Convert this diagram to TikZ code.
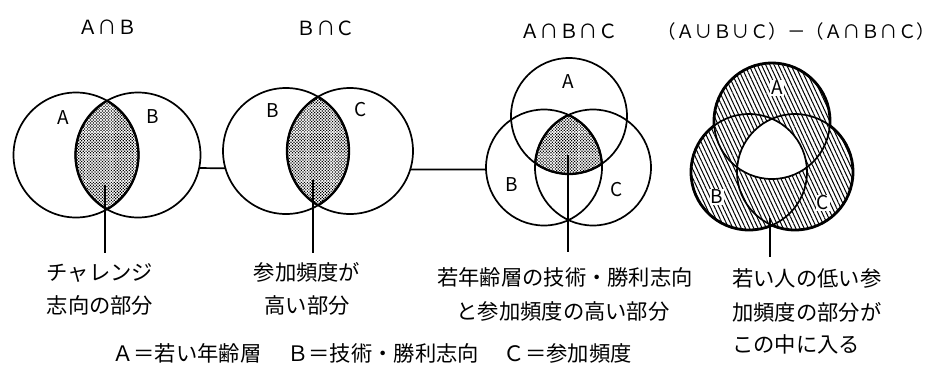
\documentclass[tikz,border=0pt]{standalone}
\usepackage{fontspec}
\newfontfamily\jp{Noto Sans CJK JP}
\usetikzlibrary{patterns,patterns.meta}
\begin{document}
\begin{tikzpicture}[x=1pt,y=-1pt,
  thickarc/.style={line width=2.3pt},
  outerline/.style={line width=2.8pt},
  conn/.style={line width=1.7pt},
  ptr/.style={line width=1.8pt},
  vnode/.style={circle,draw,line width=1.7pt,inner sep=0pt,outer sep=0pt,minimum size=#1},
  lbl/.style={font=\jp\fontsize{19}{19}\selectfont,inner sep=0pt},
  wlbl/.style={font=\jp\fontsize{19}{19}\selectfont,inner sep=1pt,fill=white},
  ttl/.style={font=\jp\fontsize{19.5}{19.5}\selectfont,inner sep=0pt,anchor=base},
  captext/.style={font=\jp\fontsize{21.3}{33}\selectfont,inner sep=0pt,anchor=base},
  captextl/.style={font=\jp\fontsize{21.3}{33}\selectfont,inner sep=0pt,anchor=base west},
  dotfill/.style={pattern={Dots[angle=45,distance=2.1pt,radius=0.85pt]}},
  hatchfill/.style={pattern={Lines[angle=-65,distance=3.8pt,line width=1pt]}},
]
\useasboundingbox (0,0) rectangle (937,365);

% ---------- panel 1 : A cap B
\coordinate (a1) at (76,155);
\coordinate (b1) at (138,155);
\begin{scope}
  \clip (a1) circle[radius=62.5];
  \fill[dotfill] (b1) circle[radius=62.5];
\end{scope}
\node[vnode=125pt] (c1a) at (a1) {};
\node[vnode=125pt] (c1b) at (b1) {};
\begin{scope}\clip (a1) circle[radius=62.5]; \draw[thickarc] (b1) circle[radius=62.5];\end{scope}
\begin{scope}\clip (b1) circle[radius=62.5]; \draw[thickarc] (a1) circle[radius=62.5];\end{scope}
\node[lbl] (la1) at (63,118) {A};
\node[lbl] (lb1) at (153,117) {B};
\node[ttl] (t1) at (107.5,34) {Ａ∩Ｂ};
\coordinate (p1) at (105,185);
\coordinate (q1) at (105,253);
\draw[ptr] (p1) -- (q1);
\node[captext] (k1a) at (100,280) {チャレンジ};
\node[captext] (k1b) at (100,313) {志向の部分};

% ---------- panel 2 : B cap C
\coordinate (b2) at (286,151);
\coordinate (c2) at (350,151);
\begin{scope}
  \clip (b2) circle[radius=63];
  \fill[dotfill] (c2) circle[radius=63];
\end{scope}
\node[vnode=126pt] (c2b) at (b2) {};
\node[vnode=126pt] (c2c) at (c2) {};
\begin{scope}\clip (b2) circle[radius=63]; \draw[thickarc] (c2) circle[radius=63];\end{scope}
\begin{scope}\clip (c2) circle[radius=63]; \draw[thickarc] (b2) circle[radius=63];\end{scope}
\node[lbl] (lb2) at (273,111) {B};
\node[lbl] (lc2) at (361,110) {C};
\node[ttl] (t2) at (326,35) {Ｂ∩Ｃ};
\coordinate (p2) at (313,180);
\coordinate (q2) at (313,253);
\draw[ptr] (p2) -- (q2);
\node[captext] (k2a) at (307,280) {参加頻度が};
\node[captext] (k2b) at (307,313) {高い部分};

% ---------- panel 3 : A cap B cap C
\coordinate (a3) at (569,116);
\coordinate (b3) at (544,167.5);
\coordinate (c3) at (593,167.5);
\begin{scope}
  \clip (a3) circle[radius=58];
  \clip (b3) circle[radius=58];
  \fill[dotfill] (c3) circle[radius=58];
\end{scope}
\node[vnode=116pt] (c3a) at (a3) {};
\node[vnode=116pt] (c3b) at (b3) {};
\node[vnode=116pt] (c3c) at (c3) {};
\begin{scope}\clip (a3) circle[radius=58]; \clip (b3) circle[radius=58]; \draw[thickarc] (c3) circle[radius=58];\end{scope}
\begin{scope}\clip (a3) circle[radius=58]; \clip (c3) circle[radius=58]; \draw[thickarc] (b3) circle[radius=58];\end{scope}
\begin{scope}\clip (b3) circle[radius=58]; \clip (c3) circle[radius=58]; \draw[thickarc] (a3) circle[radius=58];\end{scope}
\node[lbl] (la3) at (568,82) {A};
\node[lbl] (lb3) at (512,185) {B};
\node[lbl] (lc3) at (617,190) {C};
\node[ttl] (t3) at (569,38) {Ａ∩Ｂ∩Ｃ};
\coordinate (p3) at (568,155);
\coordinate (q3) at (568,252);
\draw[ptr] (p3) -- (q3);
\node[captext] (k3a) at (565,285) {若年齢層の技術・勝利志向};
\node[captext] (k3b) at (563,319) {と参加頻度の高い部分};

% ---------- panel 4 : (A cup B cup C) - (A cap B cap C)
\coordinate (a4) at (772,121);
\coordinate (b4) at (749,172);
\coordinate (c4) at (795,172);
\fill[hatchfill] (a4) circle[radius=58] (b4) circle[radius=58] (c4) circle[radius=58];
\begin{scope}
  \clip (a4) circle[radius=58];
  \clip (b4) circle[radius=58];
  \fill[white] (c4) circle[radius=58];
\end{scope}
\node[wlbl] (la4) at (777,88) {A};
\node[wlbl] (lb4) at (717,197) {B};
\node[wlbl] (lc4) at (823,203) {C};
\node[vnode=116pt] (c4a) at (a4) {};
\node[vnode=116pt] (c4b) at (b4) {};
\node[vnode=116pt] (c4c) at (c4) {};
\begin{scope}[even odd rule]
  \clip (660,0) rectangle (937,300) (b4) circle[radius=58];
  \clip (660,0) rectangle (937,300) (c4) circle[radius=58];
  \draw[outerline] (a4) circle[radius=58];
\end{scope}
\begin{scope}[even odd rule]
  \clip (660,0) rectangle (937,300) (a4) circle[radius=58];
  \clip (660,0) rectangle (937,300) (c4) circle[radius=58];
  \draw[outerline] (b4) circle[radius=58];
\end{scope}
\begin{scope}[even odd rule]
  \clip (660,0) rectangle (937,300) (a4) circle[radius=58];
  \clip (660,0) rectangle (937,300) (b4) circle[radius=58];
  \draw[outerline] (c4) circle[radius=58];
\end{scope}
\node[ttl,font=\jp\fontsize{18.5}{18.5}\selectfont] (t4) at (796.5,38) {（Ａ∪Ｂ∪Ｃ）－（Ａ∩Ｂ∩Ｃ）};
\coordinate (p4) at (770,218);
\coordinate (q4) at (770,257);
\draw[ptr] (p4) -- (q4);
\node[captextl] (k4a) at (732,286) {若い人の低い参};
\node[captextl] (k4b) at (732,320) {加頻度の部分が};
\node[captextl] (k4c) at (732,352) {この中に入る};

% ---------- connectors between panels
\draw[conn] (c1b.-12.9) -- (c2b.196.6);
\draw[conn] (c2c.-17.55) -- (c3b.182.5);

% ---------- legend
\node[captextl] (leg) at (112,361) {Ａ＝若い年齢層\hspace{26pt}Ｂ＝技術・勝利志向\hspace{25pt}Ｃ＝参加頻度};
\end{tikzpicture}
\end{document}
